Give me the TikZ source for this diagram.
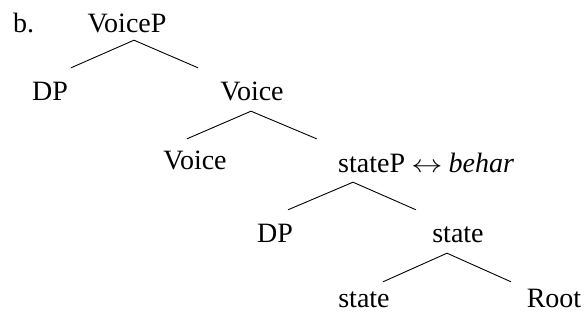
\documentclass[tikz,border=0pt]{standalone}
\usepackage{fontspec}
\setmainfont{Liberation Serif}
\usepackage{tikz}
\usetikzlibrary{positioning}

\begin{document}
\begin{tikzpicture}[
  x=1pt, y=1pt,
  cat/.style={inner sep=0pt, anchor=base, text height=19pt, text depth=6pt, font=\fontsize{28}{33}\selectfont},
  branch/.style={line width=0.9pt}
]
  \useasboundingbox (0,0) rectangle (586,-320);
  \node[cat, anchor=base west] (ex) at (13,-33) {b.};
  \node[cat] (voicep) at (127,-33) {VoiceP};
  \node[cat] (dpa) at (50,-101) {DP};
  \node[cat] (voicebar) at (252,-101) {Voice};
  \node[cat] (voice) at (195,-170) {Voice};
  \node[cat, anchor=base west] (statep) at (338,-173) {stateP};
  \node[cat, anchor=base west] (behar) at ([xshift=6pt]statep.base east) {\scalebox{1.25}[1]{$\leftrightarrow$}\hspace{6pt}\textit{behar}};
  \node[cat] (dpb) at (275,-243) {DP};
  \node[cat] (statebar) at (458,-243) {state};
  \node[cat] (state) at (364,-307) {state};
  \node[cat] (root) at (554,-307) {Root};

  \draw[branch] ([xshift=21pt,yshift=14pt]dpa.north) -- ([xshift=7pt,yshift=-1pt]voicep.south) -- ([xshift=-54pt,yshift=14pt]voicebar.north);
  \draw[branch] ([xshift=-8pt,yshift=12pt]voice.north) -- ([xshift=-1pt,yshift=-4pt]voicebar.south) -- ([xshift=-55pt,yshift=15pt]statep.north);
  \draw[branch] ([xshift=13pt,yshift=14pt]dpb.north) -- ([xshift=15pt,yshift=-3pt]statep.south west) -- ([xshift=-42pt,yshift=14pt]statebar.north);
  \draw[branch] ([xshift=19pt,yshift=6pt]state.north) -- ([xshift=-11pt,yshift=-4pt]statebar.south) -- ([xshift=-43pt,yshift=6pt]root.north);
\end{tikzpicture}
\end{document}
